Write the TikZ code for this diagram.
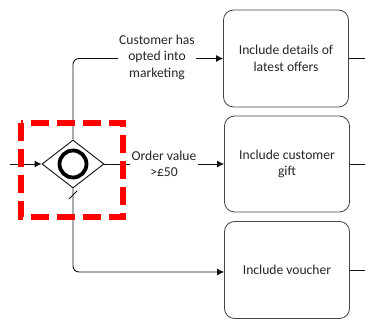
\documentclass[tikz,border=0pt]{standalone}
\usepackage{fontspec}
\setmainfont{Carlito}
\usetikzlibrary{arrows.meta,positioning,shapes.geometric,calc}
\definecolor{FlowBlack}{HTML}{111111}
\definecolor{BoxGray}{HTML}{444444}
\definecolor{MarkRed}{HTML}{FF0000}

\begin{document}
\begin{tikzpicture}[x=1pt, y=-1pt, every node/.style={font=\fontsize{13.6}{16.5}\selectfont, align=center, text=black!85}]
  \useasboundingbox (0,0) rectangle (365,320);
  \tikzset{
    taskbox/.style={draw=BoxGray, line width=0.8pt, rounded corners=10pt, minimum width=125pt, minimum height=97pt, inner sep=2pt},
    flow/.style={draw=FlowBlack, line width=0.9pt, rounded corners=6pt},
    flowarrow/.style={flow, -{Latex[length=7pt, width=7pt]}}
  }
  \node[taskbox] (offers) at (286,58.5) {Include details of\\latest offers};
  \node[taskbox, minimum height=96pt] (gift) at (287,164) {Include customer\\gift};
  \node[taskbox] (voucher) at (287,270) {Include voucher};
  \node[diamond, draw=FlowBlack, line width=0.9pt, minimum width=62pt, minimum height=48pt, inner sep=0pt] (gate) at (73,164) {};
  \node[circle, draw=black, line width=3.8pt, minimum size=27pt, inner sep=0pt] (ring) at (gate) {};
  \coordinate (start) at (10,164);
  \coordinate (upturn) at (73,58.5);
  \coordinate (downturn) at (73,272);
  \coordinate (outa) at (365,58.5);
  \coordinate (outb) at (365,164);
  \coordinate (outc) at (365,270);
  \node[fill=white, inner sep=1pt] (optlabel) at (157,57) {Customer has\\opted into\\marketing};
  \node[fill=white, inner sep=1pt] (orderlabel) at (164,164) {Order value\\>£50};
  % incoming and outgoing flows
  \draw[flowarrow] (start) -- (gate.west);
  \draw[flow] (gate.north) -- (upturn) -- (optlabel.west |- upturn);
  \draw[flowarrow] (optlabel.east |- upturn) -- (offers.west);
  \draw[flow] (gate.east) -- (orderlabel.west);
  \draw[flowarrow] (orderlabel.east) -- (gift.west);
  \draw[flowarrow] (gate.south) -- (downturn) -- (voucher.west |- downturn);
  \draw[flow] (offers.east) -- (outa);
  \draw[flow] (gift.east) -- (outb);
  \draw[flow] (voucher.east) -- (outc);
  % default marker
  \draw[FlowBlack, line width=0.9pt] (69,199) -- (77,191);
  % highlight
  \draw[MarkRed, line width=6pt, dash pattern=on 18pt off 8pt] (21,123) rectangle (123,217);
\end{tikzpicture}
\end{document}
